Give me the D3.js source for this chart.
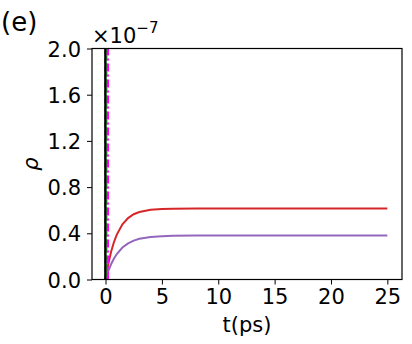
<!DOCTYPE html>
<html>
<head>
<meta charset="utf-8">
<script src="https://cdn.jsdelivr.net/npm/d3@7"></script>
<style>
  body { margin: 0; background: #fff; }
  svg { font-family: "DejaVu Sans", sans-serif; }
</style>
</head>
<body>
<svg id="chart"></svg>
<script>
// values in units of 1e-7
let tRise = [0, 0.25, 0.5, 0.75, 1, 1.5, 2, 2.5, 3, 4, 5, 6, 8, 10, 15, 20, 25]
let redVals = [0, 0.136, 0.242, 0.325, 0.389, 0.478, 0.532, 0.565, 0.584, 0.604, 0.611, 0.613, 0.615, 0.615, 0.615, 0.615, 0.615]
let purpleVals = [0, 0.074, 0.134, 0.182, 0.221, 0.277, 0.313, 0.337, 0.352, 0.368, 0.375, 0.378, 0.38, 0.38, 0.38, 0.38, 0.38]

// pulses near t=0 that run far above the axis
let tMagenta = [0.14, 0.18, 0.22]
let magentaVals = [0, 40, 0]
let tGreen = [0.0, 0.04, 0.08]
let greenVals = [0, 40, 0]
let tBlack = [-0.04, -0.02, 0.0]
let blackVals = [0, 40, 0]

let xTicks = [0, 5, 10, 15, 20, 25]
let yTicks = [0, 0.4, 0.8, 1.2, 1.6, 2.0]

let width = 412
let height = 344
let padLeft = 92, padRight = 402, padTop = 48.5, padBottom = 279.5

let svg = d3.select('#chart')
    .attr('width', width)
    .attr('height', height)

let xScale = d3.scaleLinear().domain([-1.2, 26.3]).range([padLeft, padRight])
let yScale = d3.scaleLinear().domain([0, 2.0]).range([padBottom, padTop])

svg.append('clipPath').attr('id', 'clip')
   .append('rect')
   .attr('x', padLeft).attr('y', padTop)
   .attr('width', padRight - padLeft).attr('height', padBottom - padTop)

let line = d3.line()
    .x(d => xScale(d[0]))
    .y(d => yScale(d[1]))

let plot = svg.append('g').attr('clip-path', 'url(#clip)')

let series = [
    {t: tRise, v: redVals, color: '#d62728', dash: null, w: 2},
    {t: tRise, v: purpleVals, color: '#9467bd', dash: null, w: 2},
    {t: tMagenta, v: magentaVals, color: '#ff00ff', dash: '8,3,2,3', w: 2},
    {t: tGreen, v: greenVals, color: '#2ca02c', dash: '5,3', w: 2},
    {t: tBlack, v: blackVals, color: '#000000', dash: null, w: 1.8}
]

series.forEach(s => {
    plot.append('path')
        .datum(s.t.map((t, i) => [t, s.v[i]]))
        .attr('fill', 'none')
        .attr('stroke', s.color)
        .attr('stroke-width', s.w)
        .attr('stroke-dasharray', s.dash)
        .attr('d', line)
})

let xAxis = d3.axisBottom(xScale)
    .tickValues(xTicks)
    .tickSize(5)
    .tickPadding(5)
    .tickFormat(d3.format('d'))

let yAxis = d3.axisLeft(yScale)
    .tickValues(yTicks)
    .tickSize(5)
    .tickPadding(6)
    .tickFormat(d3.format('.1f'))

let gx = svg.append('g')
    .attr('transform', 'translate(0,' + padBottom + ')')
    .call(xAxis)
let gy = svg.append('g')
    .attr('transform', 'translate(' + padLeft + ',0)')
    .call(yAxis)

;[gx, gy].forEach(g => {
    g.select('.domain').remove()
    g.selectAll('.tick line').attr('stroke', '#000').attr('stroke-width', 1)
    g.selectAll('.tick text')
        .attr('fill', '#000')
        .style('font-size', '21px')
        .style('font-family', '"DejaVu Sans", sans-serif')
})
gy.selectAll('.tick text').attr('dy', '0.36em')

svg.append('rect')
   .attr('x', padLeft).attr('y', padTop)
   .attr('width', padRight - padLeft).attr('height', padBottom - padTop)
   .attr('fill', 'none')
   .attr('stroke', '#000')
   .attr('stroke-width', 1.2)

svg.append('text')
   .attr('x', 247).attr('y', 332)
   .attr('text-anchor', 'middle')
   .style('font-size', '21px')
   .text('t(ps)')

svg.append('text')
   .attr('transform', 'translate(38,' + ((padTop + padBottom) / 2) + ') rotate(-90)')
   .attr('text-anchor', 'middle')
   .style('font-size', '21px')
   .style('font-style', 'italic')
   .text('ρ')

let off = svg.append('text')
   .attr('x', 92).attr('y', 43)
   .style('font-size', '21px')
off.append('tspan').text('×10')
off.append('tspan').attr('dy', -10).style('font-size', '15px').text('−7')

svg.append('text')
   .attr('x', 1).attr('y', 31)
   .style('font-size', '26px')
   .text('(e)')
</script>
</body>
</html>
